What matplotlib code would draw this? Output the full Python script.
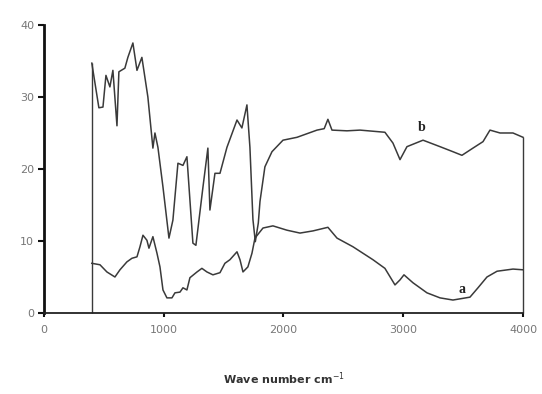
import numpy as np
import matplotlib
matplotlib.use("Agg")
import matplotlib.pyplot as plt

# readings (wave number in cm-1, value)
b_wn = [400, 459, 493, 518, 551, 576, 610, 626, 676, 701, 743, 777, 818, 868,
        910, 927, 952, 994, 1044, 1077, 1119, 1161, 1194, 1244, 1269, 1328,
        1369, 1386, 1428, 1470, 1528, 1612, 1653, 1695, 1720, 1745, 1765,
        1790, 1804, 1845, 1904, 1996, 2113, 2280, 2340, 2371, 2405, 2530,
        2639, 2847, 2914, 2973, 3031, 3165, 3307, 3415, 3490, 3582, 3666,
        3724, 3808, 3916, 4000]
b_val = [34.7, 28.5, 28.6, 33.0, 31.4, 33.7, 26.0, 33.5, 34.0, 35.5, 37.5,
         33.7, 35.5, 30.0, 22.9, 25.0, 23.0, 17.5, 10.4, 12.9, 20.8, 20.5,
         21.7, 9.7, 9.4, 17.5, 22.9, 14.3, 19.4, 19.4, 23.0, 26.8, 25.7, 28.9,
         23.0, 13.0, 9.9, 12.5, 15.5, 20.3, 22.4, 24.0, 24.4, 25.4, 25.6,
         26.9, 25.4, 25.3, 25.4, 25.1, 23.6, 21.3, 23.1, 24.0, 23.1, 22.4,
         21.9, 22.9, 23.8, 25.4, 25.0, 25.0, 24.4]

a_wn = [400, 468, 526, 593, 635, 693, 735, 777, 802, 827, 860, 877, 910, 944,
        969, 994, 1027, 1069, 1094, 1136, 1161, 1194, 1219, 1278, 1319, 1361,
        1411, 1470, 1511, 1553, 1612, 1637, 1662, 1703, 1737, 1762, 1829,
        1912, 2029, 2138, 2246, 2371, 2447, 2580, 2747, 2847, 2931, 2973,
        3006, 3081, 3198, 3307, 3415, 3557, 3624, 3699, 3783, 3916, 4000]
a_val = [6.9, 6.7, 5.7, 5.0, 6.0, 7.1, 7.6, 7.8, 9.2, 10.8, 10.1, 9.0, 10.6,
         8.3, 6.4, 3.2, 2.1, 2.1, 2.8, 2.9, 3.5, 3.2, 4.9, 5.7, 6.2, 5.7, 5.3,
         5.6, 6.9, 7.4, 8.5, 7.4, 5.7, 6.4, 8.3, 10.4, 11.8, 12.1, 11.5, 11.1,
         11.4, 11.9, 10.4, 9.2, 7.4, 6.2, 3.9, 4.6, 5.3, 4.2, 2.8, 2.1, 1.8,
         2.2, 3.5, 5.0, 5.8, 6.1, 6.0]

xticks = [0, 1000, 2000, 3000, 4000]
yticks = [0, 10, 20, 30, 40]

fig = plt.figure(figsize=(5.42, 3.94), dpi=100)
ax = fig.add_axes([0.081, 0.2056, 0.884, 0.731])

line_col = '#3a3a3a'
ax.plot(b_wn, b_val, color=line_col, lw=1.1, clip_on=False)
ax.plot(a_wn, a_val, color=line_col, lw=1.1, clip_on=False)
# instrument baseline drops at both ends of trace b
ax.vlines([b_wn[0], b_wn[-1]], 0, [b_val[0], b_val[-1]], color=line_col, lw=1.0,
          clip_on=False)

ax.text(3157, 25.7, 'b', fontsize=10, fontweight='bold', family='Liberation Serif',
        ha='center', va='center', color='#222222')
ax.text(3490, 3.3, 'a', fontsize=10, fontweight='bold', family='Liberation Serif',
        ha='center', va='center', color='#222222')

ax.set_xlim(0, 4000)
ax.set_ylim(0, 40)
ax.set_xticks(xticks)
ax.set_yticks(yticks)
ax.set_xticklabels([str(t) for t in xticks])
ax.set_yticklabels([str(t) for t in yticks])

for s in ['top', 'right']:
    ax.spines[s].set_visible(False)
ax.spines['left'].set_linewidth(2.0)
ax.spines['bottom'].set_linewidth(1.3)
ax.spines['left'].set_color('#111111')
ax.spines['bottom'].set_color('#222222')

ax.tick_params(axis='y', direction='out', length=4, width=1.5, colors='#111111',
               labelcolor='#777777', labelsize=8, pad=3)
ax.tick_params(axis='x', direction='out', length=3, width=1.5, colors='#111111',
               labelcolor='#777777', labelsize=8, pad=6)

ax.set_xlabel('Wave number cm$^{-1}$', fontsize=8, fontweight='bold', color='#333333',
              labelpad=25)

plt.savefig('out.png', dpi=100)
